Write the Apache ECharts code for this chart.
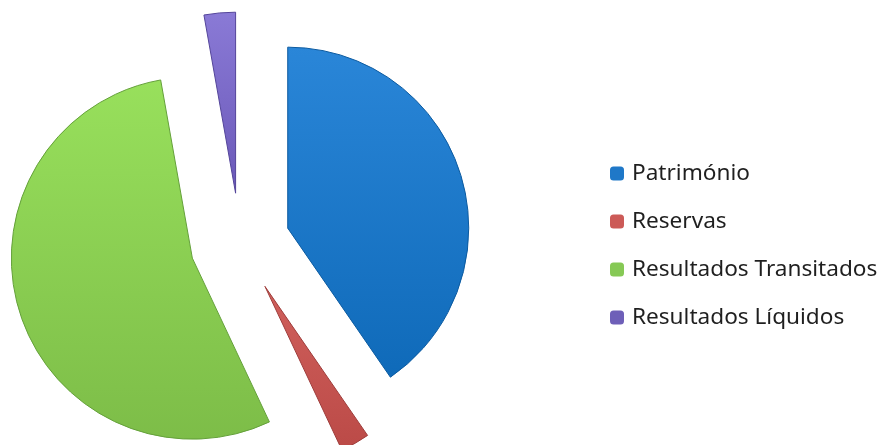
<!DOCTYPE html>
<html>
<head>
<meta charset="utf-8">
<script src="https://cdn.jsdelivr.net/npm/echarts@6/dist/echarts.min.js"></script>
<style>
  html, body { margin: 0; padding: 0; background: #fff; }
  #chart { width: 883px; height: 445px; }
</style>
</head>
<body>
<div id="chart"></div>
<script>
const categories = ['Património', 'Reservas', 'Resultados Transitados', 'Resultados Líquidos']
const shares = [40.4, 2.6, 54.2, 2.8]
const colorsTop = ['#2a86d8', '#d0605c', '#98e05c', '#8a7ad6']
const colorsBottom = ['#0f6ab9', '#bb4a47', '#7dbd48', '#6a58b8']
const legendColors = ['#1f78c8', '#cc5a57', '#86c955', '#6e5fb8']
const edgeColors = ['#0b5aa0', '#9e3c3a', '#64a03a', '#54459a']

const chart = echarts.init(document.getElementById('chart'))

function gradient(i) {
  return new echarts.graphic.LinearGradient(0, 0, 0, 1, [
    { offset: 0, color: colorsTop[i] },
    { offset: 1, color: colorsBottom[i] },
  ])
}

chart.setOption({
  animation: false,
  legend: {
    orient: 'vertical',
    left: 605,
    top: 157,
    itemWidth: 14,
    itemHeight: 14,
    itemGap: 25,
    icon: 'roundRect',
    selectedMode: false,
    data: categories.map((name, i) => ({ name, itemStyle: { color: legendColors[i], borderWidth: 0 } })),
    textStyle: { fontFamily: 'Noto Sans', fontSize: 22.6, color: '#1f1f1f', lineHeight: 22, padding: [0, 0, 0, 3] },
  },
  series: [{
    type: 'pie',
    center: [240, 243],
    radius: 181,
    startAngle: 90,
    clockwise: true,
    selectedMode: 'multiple',
    selectedOffset: 50,
    avoidLabelOverlap: false,
    label: { show: false },
    labelLine: { show: false },
    emphasis: { disabled: true },
    silent: true,
    data: categories.map((name, i) => ({
      name,
      value: shares[i],
      selected: true,
      itemStyle: { color: gradient(i), borderColor: edgeColors[i], borderWidth: 1 },
    })),
  }],
})
</script>
</body>
</html>
